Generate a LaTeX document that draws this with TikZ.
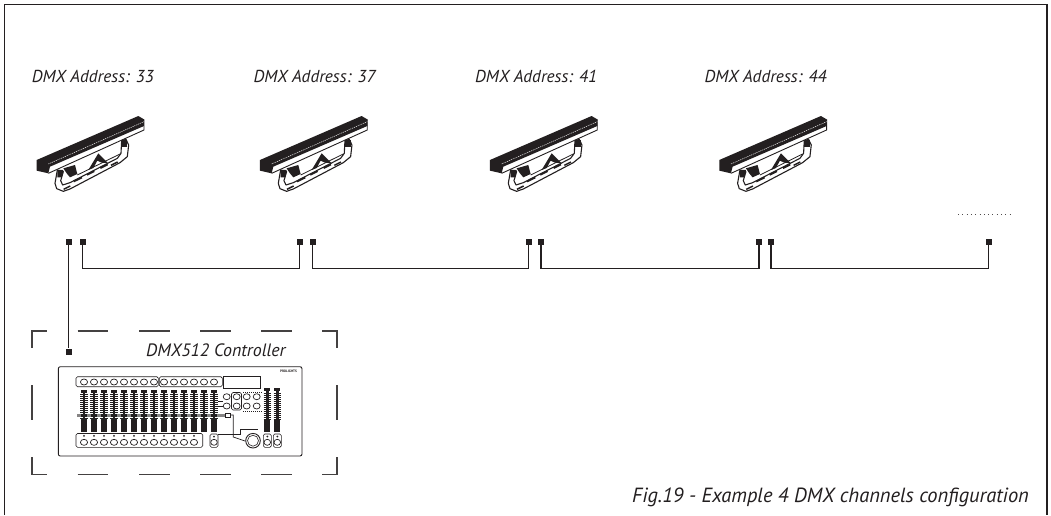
\documentclass[tikz,border=0pt]{standalone}
\usepackage{fontspec}
\setmainfont{PT Sans}
\definecolor{ink}{HTML}{231F20}
\tikzset{
 wire/.style={draw=ink,line width=1.5pt},
 port/.style={fill=ink,draw=none,minimum size=6pt,inner sep=0pt,rectangle},
 caption/.style={font=\itshape\fontsize{17.3}{19}\selectfont,text=ink,anchor=base west,inner sep=0pt},
 dashseg/.style={draw=ink!85,line width=1.1pt},
 pn/.style={draw=ink,line width=.6pt},
 btn/.style={draw=ink,line width=.7pt,fill=white},
 fixture/.pic={
  % lower white band outline
  \draw[ink,line width=.9pt,line join=round] (85,250) -- (372,120) -- (372,88);
  % yoke outer
  \draw[ink,line width=1.1pt,fill=white,line join=round] (112,240) -- (105,280) -- (110,296) -- (130,304) -- (150,297) -- (300,218) -- (322,200) -- (326,165) -- (318,148) -- (305,152) -- (303,190) -- (292,205) -- (150,278) -- (128,285) -- (122,272) -- (130,245) -- cycle;
  % body wedges
  \fill[ink] (130,235) -- (165,225) -- (172,252) -- (150,262) -- (140,250) -- cycle;
  \fill[ink] (205,240) -- (235,190) -- (265,220) -- (245,218) -- (232,212) -- (220,234) -- cycle;
  \draw[ink,line width=.8pt] (172,255) -- (300,192);
  \fill[ink] (112,240) -- (130,240) -- (126,262) -- (112,262) -- cycle;
  \fill[ink] (305,150) -- (322,150) -- (322,172) -- (305,172) -- cycle;
  % yoke slots
  \fill[ink] (160,272) -- (185,260) -- (187,265) -- (162,277) -- cycle;
  \fill[ink] (200,252) -- (222,241) -- (224,246) -- (202,257) -- cycle;
  \fill[ink] (240,232) -- (262,221) -- (264,226) -- (242,237) -- cycle;
  \fill[ink] (272,224) -- (292,214) -- (294,218) -- (274,228) -- cycle;
  \fill[ink] (130,296) -- (150,286) -- (152,290) -- (132,300) -- cycle;
  % bar
  \fill[ink] (50,210) -- (355,78) -- (372,88) -- (372,108) -- (90,230) -- (85,250) -- (50,242) -- cycle;
  \draw[white,line width=.45pt,dash pattern=on 1.2pt off .8pt] (85,222) -- (372,95);
 }
}
\begin{document}
\begin{tikzpicture}[x=1pt,y=-1pt]
\useasboundingbox (0,0) rectangle (1051,515);
\fill[white] (0,0) rectangle (1051,515);
% frame
\draw[ink,line width=1.3pt] (4.3,515) -- (4.3,4.3) -- (1047,4.3) -- (1047,515);
% labels
\node[caption] (l1) at (31.7,82.7) {DMX Address: 33};
\node[caption] (l2) at (253.3,82.7) {DMX Address: 37};
\node[caption] (l3) at (475,82.7) {DMX Address: 41};
\node[caption] (l4) at (704.3,82.7) {DMX Address: 44};
\node[caption,font=\itshape\fontsize{17.9}{19}\selectfont] (ctrl) at (146,356.7) {DMX512 Controller};
\node[caption,font=\itshape\fontsize{20.5}{22}\selectfont] (fig) at (632,502.7) {Fig.19 - Example 4 DMX channels configuration};
% fixtures
\pic[x=.3333pt,y=-.3333pt] at (20pt,-90pt) {fixture};
\pic[x=.3333pt,y=-.3333pt] at (243.3pt,-90pt) {fixture};
\pic[x=.3333pt,y=-.3333pt] at (473.3pt,-90pt) {fixture};
\pic[x=.3333pt,y=-.3333pt] at (702.6pt,-90pt) {fixture};
% ports
\node[port] (p0) at (68.7,242) {};
\node[port] (p1) at (82.7,242) {};
\node[port] (p2) at (299.7,242) {};
\node[port] (p3) at (312.5,242) {};
\node[port] (p4) at (528.5,242) {};
\node[port] (p5) at (541,242) {};
\node[port] (p6) at (759,242) {};
\node[port] (p7) at (771,242) {};
\node[port] (p8) at (988.7,242) {};
\node[port] (pc) at (68.7,351.5) {};
\coordinate (c1) at (82.7,268.3);
\coordinate (c2) at (312.5,268.3);
\coordinate (c3) at (541,268.3);
\coordinate (c4) at (771,268.3);
\draw[wire] (p0) -- (pc);
\draw[wire] (p1) -- (c1) -| (p2);
\draw[wire] (p3) -- (c2) -| (p4);
\draw[wire] (p5) -- (c3) -| (p6);
\draw[wire] (p7) -- (c4) -| (p8);
% dots
\draw[ink!80,line width=.9pt,dash pattern=on 1pt off 3.3pt] (958,214.3) -- (1010,214.3);
% dashed box
\draw[dashseg] (46.7,331) -- (32,331) -- (32,348.3);
\draw[dashseg] (322,331) -- (337,331) -- (337,348.3);
\draw[dashseg] (46.7,474.7) -- (32,474.7) -- (32,457.3);
\draw[dashseg] (322,474.7) -- (337,474.7) -- (337,457.3);
\foreach \a/\b in {77.7/108.3,139/169.7,200/230.7,261/291.7}{
 \draw[dashseg] (\a,331) -- (\b,331);
 \draw[dashseg] (\a,474.7) -- (\b,474.7);
}
\draw[dashseg] (32,385) -- (32,420);
\draw[dashseg] (337,385) -- (337,420);
% controller
\draw[ink,line width=.9pt,rounded corners=2pt] (58.3,366.7) rectangle (302,456);
\draw[pn,rounded corners=1.5pt] (76,376.7) rectangle (158.3,386.7);
\draw[pn,rounded corners=1.5pt] (159.3,376.7) rectangle (222.3,386.7);
\draw[pn] (223.5,376.7) rectangle (260,388.3);
\draw[pn,rounded corners=1.5pt] (76,433.5) rectangle (202.7,447.3);
\foreach \i in {0,...,13}{
 \pgfmathsetmacro{\fx}{84+10*\i}
 \draw[btn] (\fx,382) ellipse (3.6 and 3);
 \draw[ink,line width=2.4pt] (\fx,390) -- (\fx,431.5);
 \fill[ink] (\fx-3,390) rectangle (\fx+3,393);
 \fill[ink] (\fx-3,419) rectangle (\fx+3,431.5);
 \foreach \y in {394,396,...,418}{\draw[ink,line width=1pt] (\fx-3.6,\y) -- (\fx+3.6,\y);}
}
\foreach \i in {0,...,11}{
 \pgfmathsetmacro{\fx}{84+10*\i}
 \draw[btn] (\fx,442.3) ellipse (3.6 and 3);
 \fill[ink] (\fx,435.8) circle (1);
}
\fill[ink!55] (76.7,413.5) rectangle (228,417);
\foreach \i in {0,...,13}{\fill[ink] (81+10*\i,414) rectangle (87+10*\i,416.5);}
\draw[pn,fill=white] (225,413.5) rectangle (230,417);
% right faders
\foreach \fx in {267.3,277.3}{
 \draw[ink,line width=2.4pt] (\fx,388) -- (\fx,431.5);
 \fill[ink] (\fx-3,388) rectangle (\fx+3,391);
 \fill[ink] (\fx-3,420) rectangle (\fx+3,431.5);
 \foreach \y in {393,395,...,419}{\draw[ink,line width=1pt] (\fx-3.6,\y) -- (\fx+3.6,\y);}
 \draw[pn,rounded corners=1.5pt] (\fx-4,434) rectangle (\fx+4,447.3);
 \draw[btn] (\fx,442.3) ellipse (3.3 and 3);
 \fill[ink] (\fx,436.5) circle (1);
}
\draw[pn,rounded corners=1.5pt] (210,434) rectangle (218,447.3);
\draw[btn] (214,442.3) ellipse (3.3 and 3);
\fill[ink] (214,436.5) circle (1);
% middle buttons
\draw[pn,rounded corners=1.5pt] (231.5,392.5) rectangle (241.5,410);
\foreach \bx/\by in {226.7/396.7,226.7/406,236.7/396.7,236.7/406,246.7/396.7,246.7/406,256.7/396.7,256.7/406}{
 \draw[btn] (\bx,\by) ellipse (3.5 and 3);
}
\draw[ink,line width=.5pt,dash pattern=on 1pt off 1pt] (243,392.5) -- (262,392.5);
\draw[ink,line width=.5pt,dash pattern=on 1pt off 1pt] (243,411) -- (262,411);
\draw[ink,line width=.7pt] (218,401.5) -- (223,401.5);
\draw[ink,line width=.7pt] (218,406) -- (223,406);
% knob and leads
\draw[ink,line width=.9pt] (253,440.7) circle (7.3);
\draw[ink,line width=.6pt] (253,440.7) circle (5.5);
\draw[ink,line width=.7pt] (230,415) -- (233.3,415) -- (233.3,437) -- (245,441);
\draw[ink,line width=.7pt] (218,434) -- (240.5,434) -- (240.5,429) -- (258,429);
% logo
\node[font=\bfseries\fontsize{3.4}{3.4}\selectfont,text=ink,inner sep=0pt] (logo) at (288.5,371) {PROLIGHTS};
\end{tikzpicture}
\end{document}
